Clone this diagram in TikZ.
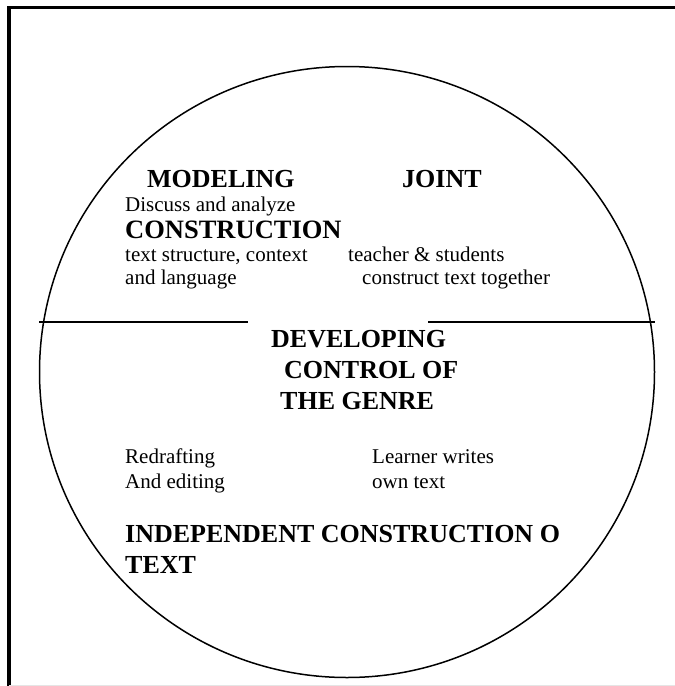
\documentclass[tikz,border=0pt]{standalone}
\usepackage{fontspec}
\setmainfont{Liberation Serif}
\usepackage{tikz}

\begin{document}
\begin{tikzpicture}[x=1pt, y=-1pt,
    head/.style={anchor=base west, inner sep=0pt, font=\fontsize{26}{30}\selectfont\bfseries},
    body/.style={anchor=base west, inner sep=0pt, font=\fontsize{21}{24}\selectfont}]
    \useasboundingbox (0,0) rectangle (675,686);

    % Frame
    \draw[line width=3.5pt] (9,686) -- (9,7.5) -- (675,7.5);
    \draw[black!10] (9,685) -- (675,685);

    % Cycle and divider
    \draw[line width=1.5pt] (347,372) ellipse [x radius=307.5pt, y radius=305.5pt];
    \draw[line width=1.4pt] (39,322) -- (248,322);
    \draw[line width=1.4pt] (428,322) -- (655,322);

    % Upper half
    \node[head] (modeling) at (147,187) {MODELING};
    \node[head] (joint) at (402,187) {JOINT};
    \node[body] (discuss) at (125,211) {Discuss and analyze};
    \node[head, font=\fontsize{26.5}{30}\selectfont\bfseries] (construction) at (125,238) {CONSTRUCTION};
    \node[body] (structure) at (125,261) {text structure, context};
    \node[body] (language) at (125,284) {and language};
    \node[body] (teacher) at (348,261) {teacher \& students};
    \node[body] (together) at (362,284) {construct text together};

    % Centre
    \node[head] (developing) at (271,347) {DEVELOPING};
    \node[head] (control) at (284,378) {CONTROL OF};
    \node[head] (genre) at (280,409) {THE GENRE};

    % Lower half
    \node[body] (redraft) at (125,463) {Redrafting};
    \node[body] (editing) at (125,488) {And editing};
    \node[body] (learner) at (372,463) {Learner writes};
    \node[body] (owntext) at (372,488) {own text};
    \node[head] (independent) at (125,542) {INDEPENDENT CONSTRUCTION O};
    \node[head] (indeptext) at (125,573) {TEXT};
\end{tikzpicture}
\end{document}
